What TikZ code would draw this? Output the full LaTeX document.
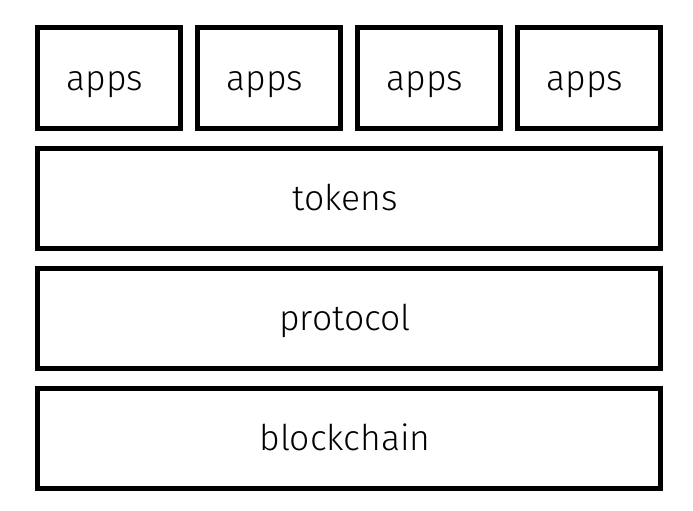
\documentclass[tikz,border=0pt]{standalone}
\usepackage{fontspec}
\setmainfont{Fira Sans}[UprightFont=* Light]
\begin{document}
\begin{tikzpicture}[x=1pt,y=-1pt,
  layer/.style={draw=black,line width=5pt,inner sep=0pt,outer sep=0pt,minimum height=100pt,anchor=north west},
  lbl/.style={inner sep=0pt,anchor=base,font=\fontsize{35.5}{42}\selectfont}]
\useasboundingbox (0,0) rectangle (693,511);
\foreach \i in {0,1,2,3}{
  \node[layer,minimum width=143pt] (app\i) at ({37.5+160*\i},28) {};
  \node[lbl] (app\i t) at ({37.5+160*\i+71.5-4},90.5) {apps};
}
\node[layer,minimum width=623pt] (tokens) at (37.5,148) {};
\node[lbl] (tokenst) at (345,210.5) {tokens};
\node[layer,minimum width=623pt] (protocol) at (37.5,268) {};
\node[lbl] (protocolt) at (345,330.5) {protocol};
\node[layer,minimum width=623pt] (blockchain) at (37.5,388) {};
\node[lbl] (blockchaint) at (345,450.5) {blockchain};
\end{tikzpicture}
\end{document}
